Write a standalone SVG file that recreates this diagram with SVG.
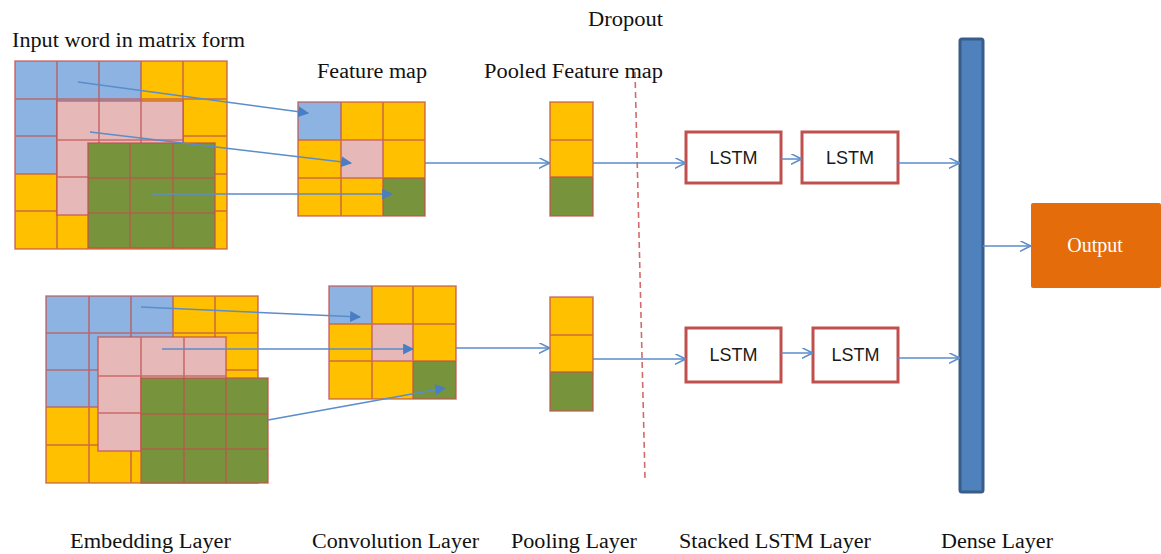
<svg xmlns="http://www.w3.org/2000/svg" width="1161" height="554" viewBox="0 0 1161 554">
<defs>
<style>
.y{fill:#FFC000}.b{fill:#8DB3E2}.p{fill:#E6B9B8}.g{fill:#77933C}
.gl{stroke:#C0504D;stroke-opacity:0.75;stroke-width:1.6;fill:none}
.c{stroke:#5B8CCB;stroke-width:1.5;fill:none}
.lbl{font-family:"Liberation Serif","Times New Roman",serif;font-size:20px;fill:#111}
.lstm{fill:#fff;stroke:#C0504D;stroke-width:3}
.lt{font-family:"Liberation Sans",Arial,sans-serif;font-size:18px;fill:#1a1a1a;text-anchor:middle}
</style>
<marker id="fa" viewBox="0 0 10 10" refX="9" refY="5" markerWidth="11" markerHeight="11" markerUnits="userSpaceOnUse" orient="auto"><path d="M0,0 L10,5 L0,10 z" fill="#4A7EC2"/></marker>
<marker id="oa" viewBox="0 0 10 10" refX="9.5" refY="5" markerWidth="11" markerHeight="11" markerUnits="userSpaceOnUse" orient="auto"><path d="M0,0 L10,5 L0,10" fill="none" stroke="#5B8CCB" stroke-width="1.4"/></marker>
</defs>
<rect width="1161" height="554" fill="#fff"/>

<g id="embedding-top">
<rect class="y" x="15" y="61" width="212" height="188"/>
<rect class="b" x="15" y="61" width="126" height="113"/>
<path class="gl" d="M15,61H227V249H15Z M57,61V249 M99,61V249 M141,61V249 M183,61V249 M15,99H227 M15,136H227 M15,174H227 M15,211H227"/>
<rect class="p" x="57" y="101" width="126" height="114"/>
<path class="gl" d="M57,101H183V215H57Z M99,101V215 M141,101V215 M57,140H183 M57,177H183"/>
<rect class="g" x="88" y="143" width="127" height="105"/>
<path class="gl" d="M88,143H215V248H88Z M130,143V248 M173,143V248 M88,178H215 M88,213H215"/>
</g>

<g id="embedding-bottom">
<rect class="y" x="46" y="296" width="212" height="187"/>
<rect class="b" x="46" y="296" width="127" height="111"/>
<path class="gl" d="M46,296H258V483H46Z M89,296V483 M131,296V483 M173,296V483 M215,296V483 M46,333H258 M46,370H258 M46,407H258 M46,445H258"/>
<rect class="p" x="98" y="337" width="128" height="114"/>
<path class="gl" d="M98,337H226V451H98Z M141,337V451 M184,337V451 M98,376H226 M98,413H226"/>
<rect class="g" x="141" y="378" width="127" height="105"/>
<path class="gl" d="M141,378H268V483H141Z M184,378V483 M226,378V483 M141,414H268 M141,449H268"/>
</g>

<g id="feature-map-top">
<rect class="y" x="298" y="102" width="127" height="114"/>
<rect class="b" x="298" y="102" width="43" height="38"/>
<rect class="p" x="341" y="140" width="42" height="38"/>
<rect class="g" x="383" y="178" width="42" height="38"/>
<path class="gl" d="M298,102H425V216H298Z M341,102V216 M383,102V216 M298,140H425 M298,178H425"/>
</g>

<g id="feature-map-bottom">
<rect class="y" x="329" y="286" width="127" height="113"/>
<rect class="b" x="329" y="286" width="43" height="38"/>
<rect class="p" x="372" y="324" width="41" height="37"/>
<rect class="g" x="413" y="361" width="43" height="38"/>
<path class="gl" d="M329,286H456V399H329Z M372,286V399 M413,286V399 M329,324H456 M329,361H456"/>
</g>

<g id="pooled-top">
<rect class="y" x="550" y="102" width="43" height="75"/>
<rect class="g" x="550" y="177" width="43" height="39"/>
<path class="gl" d="M550,102H593V216H550Z M550,140H593 M550,177H593"/>
</g>

<g id="pooled-bottom">
<rect class="y" x="550" y="297" width="43" height="75"/>
<rect class="g" x="550" y="372" width="43" height="39"/>
<path class="gl" d="M550,297H593V411H550Z M550,335H593 M550,372H593"/>
</g>

<g id="lstm-top-1"><rect class="lstm" x="686" y="132" width="95" height="51"/><text class="lt" x="733.5" y="164">LSTM</text></g>
<g id="lstm-top-2"><rect class="lstm" x="802" y="132" width="96" height="51"/><text class="lt" x="850" y="164">LSTM</text></g>
<g id="lstm-bottom-1"><rect class="lstm" x="686" y="328" width="95" height="54"/><text class="lt" x="733.5" y="361">LSTM</text></g>
<g id="lstm-bottom-2"><rect class="lstm" x="813" y="328" width="85" height="54"/><text class="lt" x="855.5" y="361">LSTM</text></g>

<g id="dense"><rect x="960" y="39" width="23" height="453" rx="2" fill="#4F81BD" stroke="#385D8A" stroke-width="3"/></g>

<g id="output"><rect x="1031" y="203" width="130" height="85" rx="2" fill="#E46C0A"/><text x="1095" y="252" text-anchor="middle" font-family="Liberation Serif,'Times New Roman',serif" font-size="20" fill="#fff">Output</text></g>

<g id="dropout"><line x1="635" y1="72" x2="645" y2="478" stroke="#D46A6A" stroke-width="1.6" stroke-dasharray="6 4"/></g>

<g id="connectors">
<line class="c" x1="78" y1="82" x2="308" y2="113" marker-end="url(#fa)"/>
<line class="c" x1="90" y1="132" x2="351" y2="163" marker-end="url(#fa)"/>
<line class="c" x1="152" y1="194" x2="392" y2="194" marker-end="url(#fa)"/>
<line class="c" x1="141" y1="307" x2="360" y2="317" marker-end="url(#fa)"/>
<line class="c" x1="162" y1="349" x2="413" y2="349" marker-end="url(#fa)"/>
<line class="c" x1="268" y1="420" x2="445" y2="388" marker-end="url(#fa)"/>
<line class="c" x1="425" y1="163" x2="549" y2="163" marker-end="url(#oa)"/>
<line class="c" x1="593" y1="163" x2="685" y2="163" marker-end="url(#oa)"/>
<line class="c" x1="781" y1="159" x2="801" y2="159" marker-end="url(#oa)"/>
<line class="c" x1="898" y1="163" x2="959" y2="163" marker-end="url(#oa)"/>
<line class="c" x1="456" y1="348" x2="549" y2="348" marker-end="url(#oa)"/>
<line class="c" x1="593" y1="359" x2="685" y2="359" marker-end="url(#oa)"/>
<line class="c" x1="781" y1="353" x2="812" y2="353" marker-end="url(#oa)"/>
<line class="c" x1="898" y1="358" x2="959" y2="358" marker-end="url(#oa)"/>
<line class="c" x1="983" y1="246" x2="1030" y2="246" marker-end="url(#oa)"/>
</g>

<g id="labels">
<text class="lbl" x="12" y="47" textLength="233" lengthAdjust="spacingAndGlyphs">Input word in matrix form</text>
<text class="lbl" x="317" y="78" textLength="110" lengthAdjust="spacingAndGlyphs">Feature map</text>
<text class="lbl" x="484" y="78" textLength="179" lengthAdjust="spacingAndGlyphs">Pooled Feature map</text>
<text class="lbl" x="588" y="26" textLength="75" lengthAdjust="spacingAndGlyphs">Dropout</text>
<text class="lbl" x="70" y="548" textLength="161" lengthAdjust="spacingAndGlyphs">Embedding Layer</text>
<text class="lbl" x="312" y="548" textLength="167" lengthAdjust="spacingAndGlyphs">Convolution Layer</text>
<text class="lbl" x="511" y="548" textLength="126" lengthAdjust="spacingAndGlyphs">Pooling Layer</text>
<text class="lbl" x="679" y="548" textLength="192" lengthAdjust="spacingAndGlyphs">Stacked LSTM Layer</text>
<text class="lbl" x="941" y="548" textLength="112" lengthAdjust="spacingAndGlyphs">Dense Layer</text>
</g>
</svg>
